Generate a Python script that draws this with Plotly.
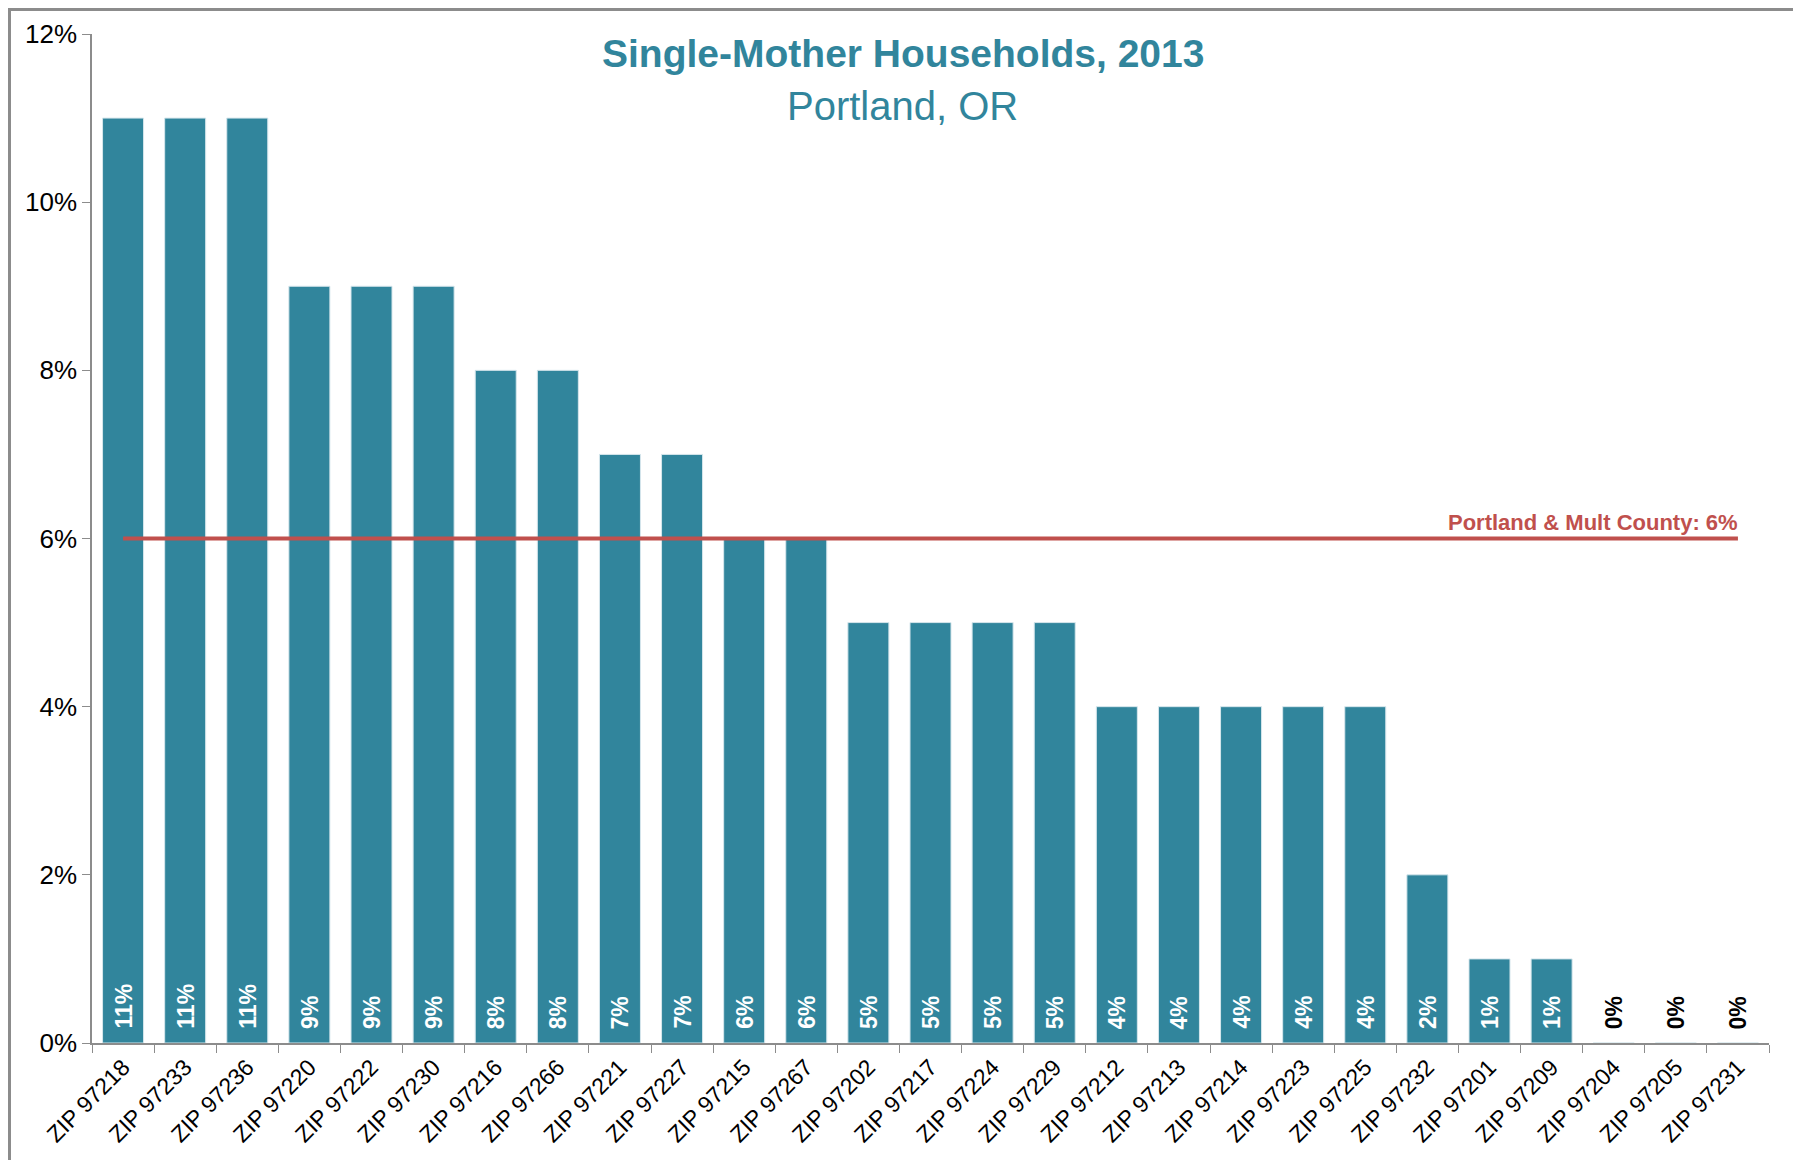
import plotly.graph_objects as go

zips = ["ZIP 97218", "ZIP 97233", "ZIP 97236", "ZIP 97220", "ZIP 97222", "ZIP 97230",
        "ZIP 97216", "ZIP 97266", "ZIP 97221", "ZIP 97227", "ZIP 97215", "ZIP 97267",
        "ZIP 97202", "ZIP 97217", "ZIP 97224", "ZIP 97229", "ZIP 97212", "ZIP 97213",
        "ZIP 97214", "ZIP 97223", "ZIP 97225", "ZIP 97232", "ZIP 97201", "ZIP 97209",
        "ZIP 97204", "ZIP 97205", "ZIP 97231"]
share = [0.11, 0.11, 0.11, 0.09, 0.09, 0.09, 0.08, 0.08, 0.07, 0.07, 0.06, 0.06,
         0.05, 0.05, 0.05, 0.05, 0.04, 0.04, 0.04, 0.04, 0.04, 0.02, 0.01, 0.01,
         0.0, 0.0, 0.0]
county_avg = 0.06
county_label = "Portland & Mult County: 6%"
y_ticks = [0, 0.02, 0.04, 0.06, 0.08, 0.10, 0.12]

TEAL = "#31859C"
RED = "#C0504D"
NARROW = "Liberation Sans Narrow, Arial Narrow, Liberation Sans, Arial"
SANS = "Liberation Sans, Arial"

W, H = 1801, 1160
L, R, T, B = 84, 40, 26, 125
PW, PH = W - L - R, H - T - B

fig = go.Figure()
fig.add_trace(go.Bar(
    x=zips, y=share, marker=dict(color=TEAL, line=dict(color="#D6E6EC", width=1)),
    showlegend=False, hoverinfo="x+y",
))
fig.add_trace(go.Scatter(
    x=zips, y=[county_avg] * len(zips), mode="lines",
    line=dict(color=RED, width=4), showlegend=False, hoverinfo="skip",
))

annotations = []
for z, v in zip(zips, share):
    annotations.append(dict(
        x=z, y=0, xref="x", yref="y", text="<b>%d%%</b>" % round(v * 100),
        textangle=-90, showarrow=False, xanchor="center", yanchor="bottom", yshift=12,
        font=dict(family=SANS, size=23, color="white" if v > 0 else "black"),
    ))
annotations.append(dict(
    x=zips[-1], y=county_avg, xref="x", yref="y", text="<b>%s</b>" % county_label,
    showarrow=False, xanchor="right", yanchor="bottom", xshift=2, yshift=2,
    font=dict(family=NARROW, size=22, color=RED),
))
annotations.append(dict(
    x=0.4836, y=0.981, xref="paper", yref="paper", text="<b>Single-Mother Households, 2013</b>",
    showarrow=False, xanchor="center", yanchor="middle",
    font=dict(family=NARROW, size=39, color=TEAL),
))
annotations.append(dict(
    x=0.4836, y=0.929, xref="paper", yref="paper", text="Portland, OR",
    showarrow=False, xanchor="center", yanchor="middle",
    font=dict(family=NARROW, size=40, color=TEAL),
))

fig.update_layout(
    width=W, height=H,
    margin=dict(l=L, r=R, t=T, b=B),
    paper_bgcolor="white", plot_bgcolor="white",
    bargap=0.34,
    annotations=annotations,
    shapes=[dict(type="rect", xref="paper", yref="paper",
                 x0=(1.5 - L) / PW, x1=(W - 12 - L) / PW,
                 y0=(H - B - 1250) / PH, y1=(H - B - 1.5) / PH,
                 line=dict(color="#8C8C8C", width=3), fillcolor="rgba(0,0,0,0)", layer="below")],
)
fig.update_xaxes(
    showline=True, linecolor="#8C8C8C", linewidth=1.5,
    ticks="outside", ticklen=8, tickcolor="#8C8C8C", tickson="boundaries",
    tickangle=-45, tickfont=dict(family=SANS, size=23, color="black"),
    showgrid=False,
)
fig.update_yaxes(
    range=[0, 0.12], tickvals=y_ticks, ticktext=["%d%%" % round(t * 100) for t in y_ticks],
    showline=True, linecolor="#8C8C8C", linewidth=1.5,
    ticks="outside", ticklen=8, tickcolor="#8C8C8C",
    tickfont=dict(family=SANS, size=26, color="black"),
    showgrid=False, zeroline=False,
)

fig.write_html("out.html")
